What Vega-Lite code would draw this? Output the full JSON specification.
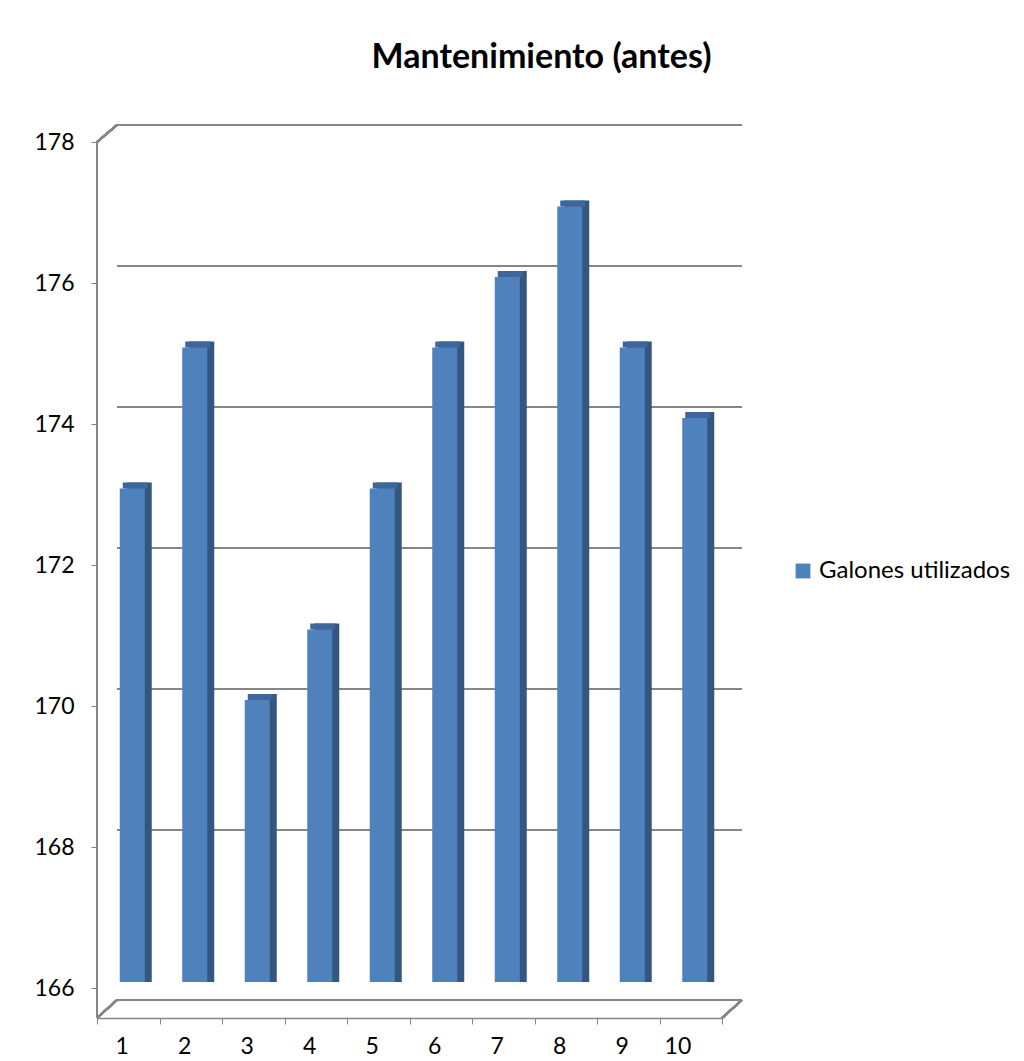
{
  "$schema": "https://vega.github.io/schema/vega-lite/v6.json",
  "width": 625,
  "height": 846,
  "autosize": {"type": "none"},
  "padding": {"left": 97, "top": 136, "right": 302, "bottom": 79},
  "background": "white",
  "config": {"view": {"stroke": null}, "font": "Lato"},
  "title": {
    "text": "Mantenimiento (antes)",
    "font": "Lato",
    "fontSize": 34,
    "fontWeight": "bold",
    "color": "black",
    "anchor": "middle",
    "frame": "group",
    "dx": 132,
    "offset": 49
  },
  "datasets": {
    "bars": [
      {"dia": "1", "galones": 173, "serie": "Galones utilizados"},
      {"dia": "2", "galones": 175, "serie": "Galones utilizados"},
      {"dia": "3", "galones": 170, "serie": "Galones utilizados"},
      {"dia": "4", "galones": 171, "serie": "Galones utilizados"},
      {"dia": "5", "galones": 173, "serie": "Galones utilizados"},
      {"dia": "6", "galones": 175, "serie": "Galones utilizados"},
      {"dia": "7", "galones": 176, "serie": "Galones utilizados"},
      {"dia": "8", "galones": 177, "serie": "Galones utilizados"},
      {"dia": "9", "galones": 175, "serie": "Galones utilizados"},
      {"dia": "10", "galones": 174, "serie": "Galones utilizados"}
    ],
    "grid": [{"v": 168}, {"v": 170}, {"v": 172}, {"v": 174}, {"v": 176}, {"v": 178}]
  },
  "layer": [
    {
      "data": {"name": "grid"},
      "mark": {"type": "rule", "color": "#868686", "strokeWidth": 2, "xOffset": 20, "x2Offset": 20, "yOffset": -11},
      "encoding": {
        "x": {"datum": "1", "type": "nominal", "bandPosition": 0},
        "x2": {"datum": "10", "bandPosition": 1},
        "y": {
          "field": "v", "type": "quantitative",
          "scale": {"domain": [166, 178], "nice": false, "zero": false},
          "axis": {
            "title": null, "values": [166, 168, 170, 172, 174, 176, 178], "format": "d", "grid": false, "domain": false,
            "tickSize": 6, "tickColor": "#868686", "tickOffset": 6, "labelFont": "Lato",
            "labelFontSize": 23, "labelColor": "black", "labelPadding": 17
          }
        }
      }
    },
    {
      "data": {"name": "bars"},
      "mark": {"type": "rule", "color": "#868686", "strokeWidth": 2, "xOffset": 20, "x2Offset": 20, "yOffset": 18},
      "encoding": {
        "x": {"datum": "1", "type": "nominal", "bandPosition": 0},
        "x2": {"datum": "10", "bandPosition": 1},
        "y": {"datum": 166, "type": "quantitative"}
      }
    },
    {
      "data": {"name": "bars"},
      "mark": {"type": "rule", "color": "#868686", "strokeWidth": 1.5, "yOffset": 6, "y2Offset": 36},
      "encoding": {
        "x": {"datum": "1", "type": "nominal", "bandPosition": 0},
        "y": {"datum": 178, "type": "quantitative"},
        "y2": {"datum": 166}
      }
    },
    {
      "data": {"name": "bars"},
      "mark": {"type": "rule", "color": "#868686", "strokeWidth": 2, "yOffset": 6, "y2Offset": -11, "x2Offset": 20},
      "encoding": {
        "x": {"datum": "1", "type": "nominal", "bandPosition": 0},
        "x2": {"datum": "1", "bandPosition": 0},
        "y": {"datum": 178, "type": "quantitative"},
        "y2": {"datum": 178}
      }
    },
    {
      "data": {"name": "bars"},
      "mark": {"type": "rule", "color": "#868686", "strokeWidth": 2, "yOffset": 36, "y2Offset": 18, "x2Offset": 20},
      "encoding": {
        "x": {"datum": "1", "type": "nominal", "bandPosition": 0},
        "x2": {"datum": "1", "bandPosition": 0},
        "y": {"datum": 166, "type": "quantitative"},
        "y2": {"datum": 166}
      }
    },
    {
      "data": {"name": "bars"},
      "mark": {"type": "rule", "color": "#868686", "strokeWidth": 2, "yOffset": 36, "y2Offset": 18, "x2Offset": 20},
      "encoding": {
        "x": {"datum": "10", "type": "nominal", "bandPosition": 1},
        "x2": {"datum": "10", "bandPosition": 1},
        "y": {"datum": 166, "type": "quantitative"},
        "y2": {"datum": 166}
      }
    },
    {
      "data": {"name": "bars"},
      "mark": {"type": "bar", "color": "#34577f", "width": 25, "xOffset": 11, "yOffset": -6},
      "encoding": {
        "x": {"field": "dia", "type": "nominal", "sort": null},
        "y": {"field": "galones", "type": "quantitative"},
        "y2": {"datum": 166}
      }
    },
    {
      "data": {"name": "bars"},
      "mark": {"type": "bar", "color": "#3e669c", "width": 25, "xOffset": 7, "yOffset": -6, "y2Offset": 0},
      "encoding": {
        "x": {"field": "dia", "type": "nominal", "sort": null},
        "y": {"field": "galones", "type": "quantitative"},
        "y2": {"field": "galones"}
      }
    },
    {
      "data": {"name": "bars"},
      "mark": {"type": "bar", "width": 25, "xOffset": 4},
      "encoding": {
        "x": {
          "field": "dia", "type": "nominal", "sort": null,
          "scale": {"domain": ["1", "2", "3", "4", "5", "6", "7", "8", "9", "10"], "paddingInner": 0, "paddingOuter": 0},
          "axis": {
            "title": null, "offset": 36, "labelAngle": 0, "labelFont": "Lato", "labelFontSize": 23,
            "labelColor": "black", "labelPadding": 22, "tickBand": "extent", "tickSize": 6,
            "tickColor": "#868686", "domainColor": "#868686", "domainWidth": 1.5
          }
        },
        "y": {"field": "galones", "type": "quantitative"},
        "y2": {"datum": 166},
        "color": {
          "field": "serie", "type": "nominal",
          "scale": {"range": ["#4f81bd"]},
          "legend": {
            "title": null, "orient": "none", "legendX": 694, "legendY": 423,
            "symbolType": "square", "symbolSize": 220, "symbolStrokeWidth": 0, "labelLimit": 400,
            "labelFont": "Lato", "labelFontSize": 24, "labelColor": "black", "labelOffset": 4
          }
        }
      }
    }
  ]
}
